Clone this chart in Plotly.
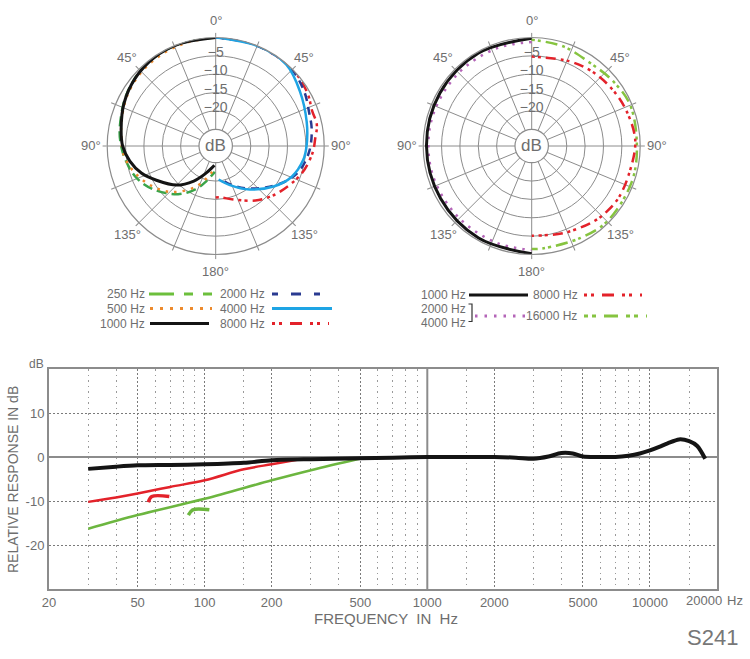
import math
import plotly.graph_objects as go

W, H = 750, 659

# ---------------- DATA ----------------
# Left polar chart (cardioid). Angles in degrees from 0 (front); left half shown mirrored.
ang_250 = [0, 20, 40, 60, 80, 90, 99, 112, 125, 142, 155, 165, 178]
db_250 = [0, 0, -0.3, -1.5, -3.0, -3.8, -4.7, -6.3, -8.9, -12.9, -16.5, -19.6, -22.5]
ang_500 = [0, 15, 30, 45, 60, 75, 85, 95, 107, 122, 137, 155, 174]
db_500 = [0, -0.3, -0.6, -1.0, -1.8, -3.0, -3.8, -4.3, -6.1, -9.0, -12.4, -17.5, -22.8]
ang_1000 = [0, 20, 35, 50, 65, 80, 90, 100, 110, 120, 135, 148, 160, 170, 176]
db_1000 = [0, 0, -0.2, -0.9, -2.0, -3.4, -4.2, -5.8, -8.0, -10.9, -14.5, -18.3, -21.6, -23.5, -24.3]
ang_2000 = [0, 20, 42, 58, 70, 80, 93, 106, 116, 129, 145, 160, 172]
db_2000 = [0, 0, 0, -1.2, -2.5, -3.0, -4.0, -5.7, -8.0, -11.7, -15.5, -18.5, -20.7]
ang_4000 = [0, 23, 41, 57, 75, 90, 99, 112, 125, 142, 160, 175]
db_4000 = [0, 0, -0.2, -2.2, -3.9, -4.8, -5.4, -7.2, -10.3, -14.5, -18.2, -20.4]
ang_8000 = [0, 20, 35, 46, 60, 70, 78, 86, 94, 108, 125, 134, 144, 161, 175, 180]
db_8000 = [0, 0, 0, 0, -0.7, -1.6, -1.4, -2.4, -3.1, -5.0, -8.0, -9.5, -11.2, -14.1, -15.5, -15.5]

# Right polar chart (omni)
ang_o1000 = [0, 30, 60, 90, 120, 150, 180]
db_o1000 = [-0.2, -0.4, -0.7, -0.9, -0.9, -0.6, -0.2]
ang_o2k4k = [0, 20, 45, 70, 90, 110, 135, 160, 180]
db_o2k4k = [-1.2, -1.3, -1.4, -1.4, -1.4, -1.5, -1.7, -1.5, -1.2]
ang_o8000 = [0, 24, 38, 53, 68, 87, 107, 121, 131, 141, 160, 177, 180]
db_o8000 = [-5.2, -4.3, -3.5, -2.8, -2.1, -1.3, -2.0, -2.0, -2.4, -3.0, -4.3, -5.1, -5.1]
ang_o16000 = [0, 18, 34, 50, 67, 90, 110, 135, 152, 174, 180]
db_o16000 = [-0.6, -1.1, -1.9, -1.3, -0.5, -0.9, -0.6, -0.5, -1.2, -1.5, -1.5]

polar_ring_db = [-25, -20, -15, -10, -5]
polar_ring_labels = ["\u22125", "\u221210", "\u221215", "\u221220"]
polar_ring_label_db = [-5, -10, -15, -20]
spoke_angles = [i * 22.5 for i in range(16)]
angle_label_pos = [0, 45, 90, 135, 180, 225, 270, 315]
angle_label_text = ["0\u00b0", "45\u00b0", "90\u00b0", "135\u00b0", "180\u00b0",
                    "135\u00b0", "90\u00b0", "45\u00b0"]

# Frequency response
freq_flat = [30, 40, 50, 70, 100, 150, 200, 300, 500, 700, 1000, 1500, 2000, 2500, 3000,
             3500, 4000, 4500, 5000, 6000, 7000, 8000, 9000, 10000, 11000, 12000, 13500,
             15000, 16300, 17700]
db_flat = [-2.7, -2.2, -1.9, -1.8, -1.65, -1.3, -0.75, -0.5, -0.3, -0.15, 0, 0, 0, -0.15,
           -0.4, 0.1, 0.9, 0.8, 0.1, 0, 0, 0.3, 0.8, 1.5, 2.3, 3.1, 4.0, 3.6, 2.5, -0.4]
freq_cut1 = [30, 40, 50, 70, 100, 150, 200, 260]
db_cut1 = [-10.2, -9.2, -8.3, -6.8, -5.3, -2.8, -1.65, -0.65]
freq_cut2 = [30, 50, 100, 200, 300, 500]
db_cut2 = [-16.3, -13.2, -9.5, -5.3, -3.0, -0.35]
sym1_f = [55.9, 57.9, 69.4]
sym1_db = [-10.3, -9.0, -9.0]
sym2_f = [84.5, 88.5, 105]
sym2_db = [-13.2, -12.0, -12.0]

x_major = [20, 50, 100, 200, 500, 1000, 2000, 5000, 10000, 20000]
x_major_text = ["20", "50", "100", "200", "500", "1000", "2000", "5000", "10000", ""]
x_end_label = "20000"
x_minor = [30, 40, 60, 70, 80, 90, 150, 300, 400, 600, 700, 800, 900, 1500, 3000, 4000,
           6000, 7000, 8000, 9000, 15000]
y_ticks = [-20, -10, 0, 10]

# ---------------- COLORS ----------------
C_GREEN = "#3aa54a"
C_ORANGE = "#ec8a2d"
C_BLACK = "#141414"
C_NAVY = "#2a3b91"
C_BLUE = "#1ea4e4"
C_RED = "#e3222a"
C_LGREEN = "#86c440"
C_PURPLE = "#b465b8"
GRID = "#8c8c8c"
TXT = "#6e6e6e"
FONT = "Liberation Sans, Arial, sans-serif"

DASH_250 = "10px,5px"
DASH_500 = "2.5px,6px"
DASH_2000 = "8px,6px"
DASH_8000 = "3px,3px,3px,5px,10px,5px"
DASH_16000 = "3px,3px,3px,5px,12px,5px"
DASH_PURPLE = "2.5px,6px"


def px(x):
    return x / W


def py(y):
    return 1 - y / H


fig = go.Figure()

R = 108.5
HOLE_PX = 16.7
HOLE = HOLE_PX / R
LABEL_DIST = 125  # px from centre for angle labels
CENTERS = [(215.7, 146), (531.7, 146)]


def polar_dom(cx, cy):
    return dict(x=[px(cx - R), px(cx + R)], y=[py(cy + R), py(cy - R)])


def add_polar(ang, db, side, color, dash, width, sub):
    th = [a * side for a in ang]
    fig.add_trace(go.Scatterpolar(
        r=db, theta=th, mode="lines", subplot=sub, cliponaxis=False,
        line=dict(color=color, dash=dash, width=width, shape="spline", smoothing=1.0),
        hoverinfo="skip", showlegend=False))


# left polar: left half (250/500/1000), right half (2000/4000/8000)
add_polar(ang_250, db_250, -1, C_GREEN, DASH_250, 2.5, "polar")
add_polar(ang_500, db_500, -1, C_ORANGE, DASH_500, 2.5, "polar")
add_polar(ang_1000, db_1000, -1, C_BLACK, "solid", 3, "polar")
add_polar(ang_8000, db_8000, 1, C_RED, DASH_8000, 2.5, "polar")
add_polar(ang_2000, db_2000, 1, C_NAVY, DASH_2000, 2.5, "polar")
add_polar(ang_4000, db_4000, 1, C_BLUE, "solid", 2.5, "polar")

# right polar
add_polar(ang_o2k4k, db_o2k4k, -1, C_PURPLE, DASH_PURPLE, 2.5, "polar2")
add_polar(ang_o1000, db_o1000, -1, C_BLACK, "solid", 3, "polar2")
add_polar(ang_o16000, db_o16000, 1, C_LGREEN, DASH_16000, 2.5, "polar2")
add_polar(ang_o8000, db_o8000, 1, C_RED, DASH_8000, 2.5, "polar2")

# ring labels on the 0 deg spoke
for sub in ["polar", "polar2"]:
    fig.add_trace(go.Scatterpolar(
        r=[v + 0.7 for v in polar_ring_label_db], theta=[0] * len(polar_ring_label_db),
        mode="text", text=polar_ring_labels, subplot=sub, cliponaxis=False,
        textfont=dict(family=FONT, size=14, color=TXT), hoverinfo="skip", showlegend=False))

polar_common = dict(
    hole=HOLE, bgcolor="white",
    radialaxis=dict(range=[-25, 0], tickvals=polar_ring_db, showticklabels=False, ticks="",
                    showline=False, gridcolor=GRID, gridwidth=1.1),
    angularaxis=dict(rotation=90, direction="clockwise", tickmode="array",
                     tickvals=spoke_angles, showticklabels=False, gridcolor=GRID,
                     gridwidth=1.1, showline=True, linecolor=GRID, linewidth=1.2,
                     ticks="outside", ticklen=4, tickcolor=GRID),
)

# ---------------- frequency response ----------------
fig.add_trace(go.Scatter(x=[1000, 1000], y=[-30, 20], mode="lines",
                         line=dict(color=GRID, width=2), hoverinfo="skip", showlegend=False))
fig.add_trace(go.Scatter(x=freq_cut2, y=db_cut2, mode="lines",
                         line=dict(color="#6cb63f", width=2.5, shape="spline"),
                         hoverinfo="skip", showlegend=False))
fig.add_trace(go.Scatter(x=freq_cut1, y=db_cut1, mode="lines",
                         line=dict(color=C_RED, width=2.5, shape="spline"),
                         hoverinfo="skip", showlegend=False))
fig.add_trace(go.Scatter(x=freq_flat, y=db_flat, mode="lines",
                         line=dict(color=C_BLACK, width=4, shape="spline", smoothing=0.8),
                         hoverinfo="skip", showlegend=False))
fig.add_trace(go.Scatter(x=sym1_f, y=sym1_db, mode="lines",
                         line=dict(color=C_RED, width=3.5, shape="spline"),
                         hoverinfo="skip", showlegend=False))
fig.add_trace(go.Scatter(x=sym2_f, y=sym2_db, mode="lines",
                         line=dict(color="#6cb63f", width=3.5, shape="spline"),
                         hoverinfo="skip", showlegend=False))

# ---------------- legends (layout decoration) ----------------
shapes = []
annotations = []


def leg_line(x0, x1, y, color, dash, width=2.5):
    shapes.append(dict(type="line", xref="paper", yref="paper", x0=px(x0), x1=px(x1),
                       y0=py(y), y1=py(y), line=dict(color=color, dash=dash, width=width)))


def text(x, y, s, size=12, anchor="right", color=TXT, angle=0, yanchor="middle"):
    annotations.append(dict(x=px(x), y=py(y), xref="paper", yref="paper", text=s,
                            showarrow=False, xanchor=anchor, yanchor=yanchor, textangle=angle,
                            font=dict(family=FONT, size=size, color=color)))


# angle labels around the polar plots
for cx, cy in CENTERS:
    for a, s in zip(angle_label_pos, angle_label_text):
        ax = cx + LABEL_DIST * math.sin(math.radians(a))
        ay = cy - LABEL_DIST * math.cos(math.radians(a))
        text(ax, ay, s, size=13, anchor="center")

# left legend
text(147, 294, "250 Hz")
leg_line(149, 212, 294, "#6cbf3c", "25px,10px,9px,10px", 3)
text(147, 308.5, "500 Hz")
leg_line(150, 212, 308.5, C_ORANGE, "3px,7px", 3)
text(147, 323.5, "1000 Hz")
leg_line(150, 209, 323.5, C_BLACK, "solid", 3)
text(267, 294, "2000 Hz")
leg_line(272, 324, 294, C_NAVY, "6px,13px,10px,13px", 3)
text(267, 308.5, "4000 Hz")
leg_line(272, 332, 308.5, C_BLUE, "solid", 3)
text(267, 323.5, "8000 Hz")
leg_line(272, 329, 323.5, C_RED, "3px,4px,3px,8px,12px,8px", 3)

# right legend
text(468, 295, "1000 Hz")
leg_line(469, 528, 295, C_BLACK, "solid", 3)
text(580, 295, "8000 Hz")
leg_line(584, 642, 295, C_RED, "3px,4px,3px,8px,12px,8px", 3)
text(468, 309, "2000 Hz")
text(468, 323, "4000 Hz")
shapes.append(dict(type="path", xref="paper", yref="paper",
                   path=f"M {px(468.5)},{py(304)} L {px(472)},{py(304)} L {px(472)},{py(321.5)} L {px(468.5)},{py(321.5)}",
                   line=dict(color="#333", width=1.2)))
leg_line(475, 527, 316, C_PURPLE, "2.5px,7px", 3)
text(579, 316, "16000 Hz")
leg_line(584, 647, 316, C_LGREEN, "4px,4px,4px,8px,14px,8px", 3)

# polar center labels
for cx, cy in CENTERS:
    text(cx, cy, "dB", size=17, anchor="center")

# response chart labels
text(36, 364, "dB", size=12, anchor="center")
text(13, 480, "RELATIVE RESPONSE IN dB", size=14, anchor="center", angle=-90)
text(386, 618, "FREQUENCY  IN  Hz", size=15, anchor="center")
text(704, 600, x_end_label, size=13, anchor="center")
text(735, 600, "Hz", size=13, anchor="center")
text(712, 637, "S241", size=22, anchor="center", color="#777")

fig.update_layout(
    width=W, height=H, margin=dict(l=0, r=0, t=0, b=0, autoexpand=False),
    paper_bgcolor="white", plot_bgcolor="white", showlegend=False,
    polar=dict(domain=polar_dom(*CENTERS[0]), **polar_common),
    polar2=dict(domain=polar_dom(*CENTERS[1]), **polar_common),
    xaxis=dict(type="log", domain=[px(49), px(717)], automargin=False,
               range=[math.log10(20), math.log10(20000)],
               tickmode="array", tickvals=x_major, ticktext=x_major_text,
               showgrid=True, gridcolor="#7a7a7a", griddash="2px,2px", gridwidth=1.4,
               minor=dict(tickmode="array", tickvals=x_minor, showgrid=True,
                          gridcolor="#9a9a9a", griddash="1.5px,4px", gridwidth=1, ticks=""),
               showline=True, mirror=True, linecolor=GRID, linewidth=2, ticks="",
               zeroline=False, tickfont=dict(family=FONT, size=13, color=TXT)),
    yaxis=dict(domain=[py(589), py(369)], range=[-30, 20], tickmode="array", automargin=False,
               tickvals=y_ticks, ticktext=[str(v) for v in y_ticks],
               showgrid=True, gridcolor="#7a7a7a", griddash="2px,2px", gridwidth=1.4,
               zeroline=True, zerolinecolor=GRID, zerolinewidth=2,
               showline=True, mirror=True, linecolor=GRID, linewidth=2, ticks="",
               tickfont=dict(family=FONT, size=13, color=TXT)),
    shapes=shapes, annotations=annotations,
)

fig.write_html("out.html")
